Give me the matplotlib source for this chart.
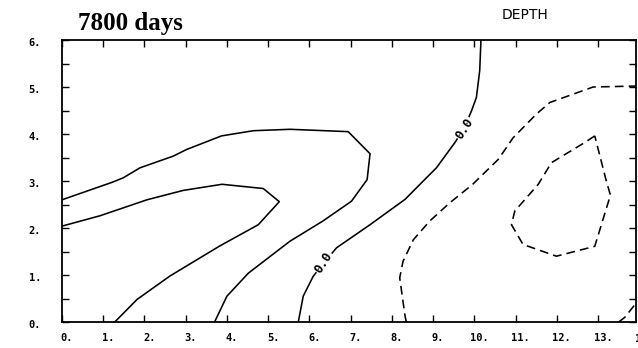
import matplotlib.pyplot as plt
import matplotlib.transforms as mtransforms
from matplotlib.ticker import FixedLocator, FuncFormatter

TITLE = "7800 days"
FIELD = "DEPTH"

X_MAX = 13.92
Y_MAX = 6.0
X_TICKS = list(range(0, 15))
Y_TICKS = list(range(0, 7))
Y_MINOR = [0.5, 1.5, 2.5, 3.5, 4.5, 5.5]

# positive contours (solid), outer and inner
POS_OUTER_X = [0.0, 1.24, 1.49, 1.89, 2.70, 3.02, 3.87, 4.64, 5.53, 6.94, 7.47, 7.40,
               7.02, 6.33, 5.53, 4.52, 4.00, 3.70]
POS_OUTER_Y = [2.60, 2.98, 3.07, 3.28, 3.53, 3.67, 3.96, 4.07, 4.10, 4.05, 3.58, 3.03,
               2.57, 2.15, 1.72, 1.04, 0.55, 0.0]
POS_INNER_X = [0.0, 0.92, 2.06, 2.94, 3.88, 4.88, 5.27, 4.76, 3.83, 2.62, 1.82, 1.28]
POS_INNER_Y = [2.04, 2.26, 2.60, 2.80, 2.93, 2.84, 2.56, 2.07, 1.62, 0.98, 0.48, 0.0]

# zero contour
ZERO_LEVEL = 0.0
ZERO_X = [5.73, 5.85, 6.09, 6.35, 6.66, 7.47, 8.32, 8.84, 9.08, 9.53, 9.75, 9.93,
          10.05, 10.13, 10.16]
ZERO_Y = [0.0, 0.55, 0.97, 1.26, 1.58, 2.07, 2.61, 3.07, 3.28, 3.82, 4.12, 4.49,
          4.78, 5.35, 6.0]
ZERO_LABEL_X = [6.35, 9.75]
ZERO_LABEL_Y = [1.26, 4.12]

# negative contours (dashed)
NEG_OUTER_X = [8.35, 8.32, 8.19, 8.27, 8.52, 8.92, 9.41, 9.96, 10.58, 10.94, 11.50,
               11.83, 12.88, 13.92]
NEG_OUTER_Y = [0.0, 0.12, 0.94, 1.29, 1.75, 2.15, 2.54, 2.93, 3.46, 3.92, 4.42,
               4.67, 5.00, 5.02]
NEG_INNER_X = [12.92, 12.68, 11.87, 11.55, 10.98, 10.90, 11.18, 11.99, 12.92, 13.30,
               13.20, 12.92]
NEG_INNER_Y = [3.96, 3.82, 3.39, 2.93, 2.36, 2.07, 1.65, 1.40, 1.61, 2.70,
               3.00, 3.96]
NEG_CORNER_X = [13.50, 13.65, 13.92]
NEG_CORNER_Y = [0.0, 0.10, 0.40]


def main():
    fig = plt.figure(figsize=(6.38, 3.48), dpi=100)
    ax = fig.add_axes([62 / 638, 26 / 348, 574 / 638, 282 / 348])

    solid = dict(color="black", lw=1.15)
    dashed = dict(color="black", lw=1.15, linestyle=(0, (5.5, 3.2)))

    ax.plot(POS_OUTER_X, POS_OUTER_Y, **solid)
    ax.plot(POS_INNER_X, POS_INNER_Y, **solid)
    ax.plot(ZERO_X, ZERO_Y, **solid)
    ax.plot(NEG_OUTER_X, NEG_OUTER_Y, **dashed)
    ax.plot(NEG_INNER_X, NEG_INNER_Y, **dashed)
    ax.plot(NEG_CORNER_X, NEG_CORNER_Y, **dashed)

    # inline labels on the zero line, white box cuts the line
    for lx, ly in zip(ZERO_LABEL_X, ZERO_LABEL_Y):
        ax.text(lx, ly, f"{ZERO_LEVEL:.1f}", family="DejaVu Sans Mono", fontsize=9,
                fontweight="bold", rotation=57, rotation_mode="anchor",
                ha="center", va="center",
                bbox=dict(facecolor="white", edgecolor="none", pad=0.5))

    ax.set_xlim(0, X_MAX)
    ax.set_ylim(0, Y_MAX)

    ax.xaxis.set_major_locator(FixedLocator(X_TICKS))
    ax.yaxis.set_major_locator(FixedLocator(Y_TICKS))
    ax.yaxis.set_minor_locator(FixedLocator(Y_MINOR))
    fmt = FuncFormatter(lambda v, pos: f"{v:.0f}.")
    ax.xaxis.set_major_formatter(fmt)
    ax.yaxis.set_major_formatter(fmt)

    ax.tick_params(axis="both", which="both", direction="in", length=5, width=1,
                   top=True, right=True, labelsize=7.5)
    ax.tick_params(axis="x", pad=8)
    ax.tick_params(axis="y", pad=15)
    for lab in ax.get_xticklabels() + ax.get_yticklabels():
        lab.set_family("DejaVu Sans Mono")
        lab.set_fontweight("bold")

    # shift x labels right, y labels down a little
    shift_x = mtransforms.ScaledTranslation(5 / 100, 0, fig.dpi_scale_trans)
    for lab in ax.get_xticklabels():
        lab.set_transform(lab.get_transform() + shift_x)
    shift_y = mtransforms.ScaledTranslation(0, -2 / 100, fig.dpi_scale_trans)
    for lab in ax.get_yticklabels():
        lab.set_transform(lab.get_transform() + shift_y)

    # last x label sits past the right edge
    ax.text(14, 0, "14.", family="DejaVu Sans Mono", fontsize=7.5, fontweight="bold",
            ha="center", va="top", clip_on=False,
            transform=ax.get_xaxis_transform() + shift_x
            + mtransforms.ScaledTranslation(0, -12 / 100, fig.dpi_scale_trans))

    for sp in ax.spines.values():
        sp.set_linewidth(1.3)

    fig.text(78 / 638, 1 - 30 / 348, TITLE, family="Liberation Serif",
             fontweight="bold", fontsize=18, va="baseline", ha="left")
    fig.text(525 / 638, 1 - 15 / 348, FIELD, family="DejaVu Sans",
             fontsize=10, va="center", ha="center")

    fig.savefig("out.png", dpi=100)


if __name__ == "__main__":
    main()
